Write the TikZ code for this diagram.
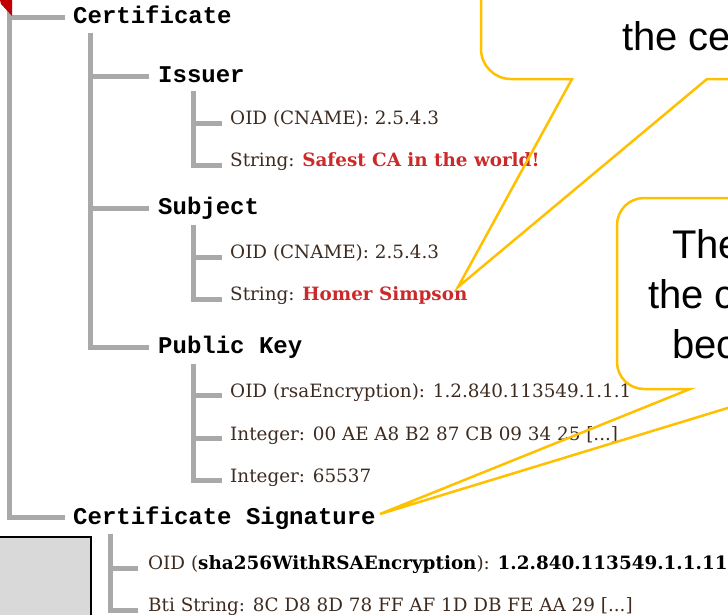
\documentclass[tikz,border=0pt]{standalone}
\usepackage{fontspec}
\setmainfont{DejaVu Serif}
\newfontfamily\headfont{Liberation Mono}
\newfontfamily\callfont{Liberation Sans}
\usetikzlibrary{calc}
\definecolor{treegray}{HTML}{A9A9A9}
\definecolor{leafbrown}{HTML}{3D2B20}
\definecolor{valred}{HTML}{CC2A2A}
\definecolor{callgold}{HTML}{FFC000}
\definecolor{boxgray}{HTML}{D9D9D9}
\definecolor{markred}{HTML}{C00000}
\begin{document}
\begin{tikzpicture}[x=1pt,y=-1pt,
  tree/.style={draw=treegray,line width=5pt},
  head/.style={anchor=base west,inner sep=0pt,font=\headfont\bfseries\fontsize{24}{28}\selectfont},
  leaf/.style={anchor=base west,inner sep=0pt,text=leafbrown,font=\fontsize{18.35}{22}\selectfont},
  callout/.style={draw=callgold,line width=2.5pt,line join=miter},
  calltext/.style={anchor=base west,inner sep=0pt,font=\callfont\fontsize{40}{48}\selectfont},
]
\path[use as bounding box] (0,0) rectangle (728,614);
\clip (0,0) rectangle (728,614);

% ---- tree labels ----
\node[head] (cert)    at (73,23)  {Certificate};
\node[head] (issuer)  at (158,82) {Issuer};
\node[head] (subject) at (158,214) {Subject};
\node[head] (pubkey)  at (158,353) {Public Key};
\node[head] (sig)     at (73,524) {Certificate Signature};

\node[leaf] (iss1) at (230,124) {OID (CNAME): 2.5.4.3};
\node[leaf] (iss2) at (230,166) {String: \textbf{\color{valred}Safest CA in the world!}};
\node[leaf] (sub1) at (230,258) {OID (CNAME): 2.5.4.3};
\node[leaf] (sub2) at (230,300) {String: \textbf{\color{valred}Homer Simpson}};
\node[leaf] (pk1)  at (230,397) {OID (rsaEncryption): 1.2.840.113549.1.1.1};
\node[leaf] (pk2)  at (230,440) {Integer: 00 AE A8 B2 87 CB 09 34 25 [...]};
\node[leaf] (pk3)  at (230,482) {Integer: 65537};
\node[leaf] (sg1)  at (148,569) {OID (\textbf{\color{black}sha256WithRSAEncryption}): \textbf{\color{black}1.2.840.113549.1.1.11}};
\node[leaf] (sg2)  at (148,611) {Bti String: 8C D8 8D 78 FF AF 1D DB FE AA 29 [...]};

% ---- stems ----
\coordinate (s0) at (9,10);
\coordinate (s1) at ($(cert.base west)+(17.5,10)$);
\coordinate (s2) at ($(issuer.base west)+(35,9)$);
\coordinate (s3) at ($(subject.base west)+(35,11)$);
\coordinate (s4) at ($(pubkey.base west)+(35,11)$);
\coordinate (s5) at ($(sig.base west)+(37,10)$);

% ---- tree branches ----
\draw[tree] (s0) |- ($(cert.base west)+(-8,-6)$);
\draw[tree] (s0) |- ($(sig.base west)+(-8,-7)$);
\foreach \c in {issuer,subject,pubkey}
  \draw[tree] (s1) |- ($(\c.base west)+(-9,-6)$);
\foreach \c in {iss1,iss2}
  \draw[tree] (s2) |- ($(\c.base west)+(-8,-1)$);
\foreach \c in {sub1,sub2}
  \draw[tree] (s3) |- ($(\c.base west)+(-8,-1)$);
\foreach \c in {pk1,pk2,pk3}
  \draw[tree] (s4) |- ($(\c.base west)+(-8,-2)$);
\foreach \c in {sg1,sg2}
  \draw[tree] (s5) |- ($(\c.base west)+(-10,-1)$);

% red marker at the root
\fill[markred] (0,0) -- (12,0) -- (12,16) -- (1,4) -- cycle;

% grey box at the lower left
\draw[line width=2pt,fill=boxgray] (-5,537) rectangle (91,620);

% ---- callouts ----
\node[calltext] (c1) at (622,50) {the ce};
\node[calltext] (c2) at (672,258) {The};
\node[calltext] (c3) at (648,308) {the c};
\node[calltext] (c4) at (672,358) {bec};

\draw[callout] (481,-10) -- (481,49) .. controls (481,65.6) and (494.4,79) .. (511,79)
  -- (572,79) -- (458,287) -- (707,79) -- (740,79);
\draw[callout] (740,198) -- (644,198) .. controls (629.1,198) and (617,210.1) .. (617,225)
  -- (617,362) .. controls (617,376.9) and (629.1,389) .. (644,389)
  -- (690,389) -- (380,514) -- (790,389);
\end{tikzpicture}
\end{document}
